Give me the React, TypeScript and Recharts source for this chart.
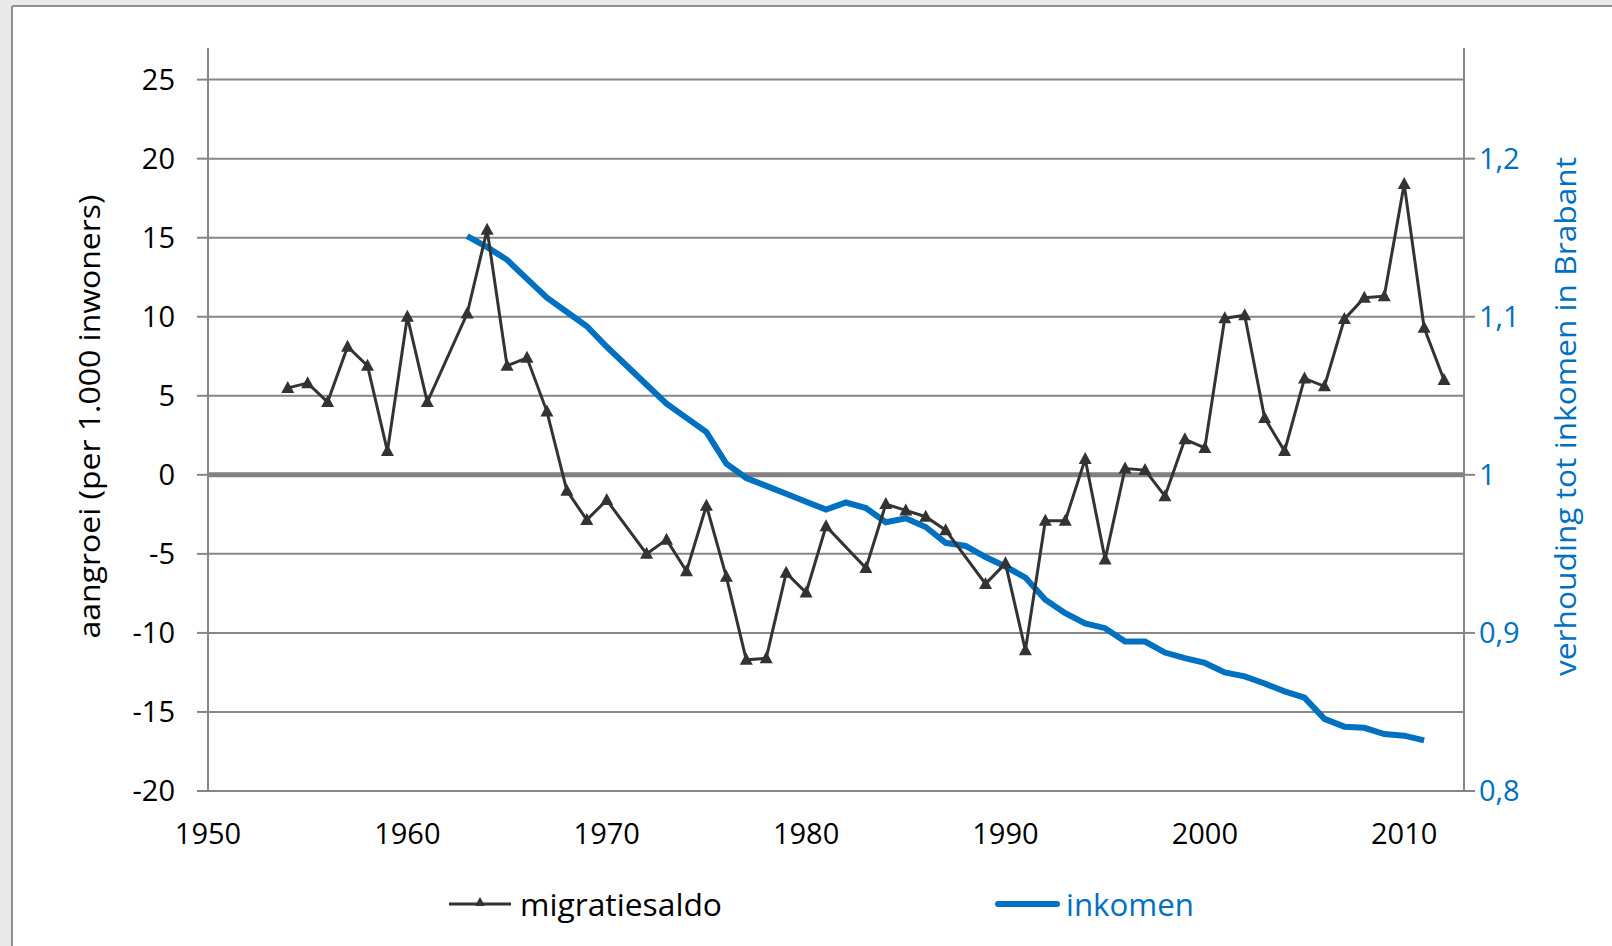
import React from 'react'
import { ComposedChart, Line, XAxis, YAxis, ReferenceLine } from 'recharts'

const FONT = "'Open Sans', sans-serif"
const BLUE = '#0070C0'
const DARK = '#333333'
const GRID = '#868686'

// migratiesaldo (per 1.000 inwoners), years with a value
const migratieYears = [
  1954, 1955, 1956, 1957, 1958, 1959, 1960, 1961, 1963, 1964, 1965, 1966, 1967, 1968, 1969, 1970,
  1972, 1973, 1974, 1975, 1976, 1977, 1978, 1979, 1980, 1981, 1983, 1984, 1985, 1986, 1987,
  1989, 1990, 1991, 1992, 1993, 1994, 1995, 1996, 1997, 1998, 1999, 2000, 2001, 2002, 2003,
  2004, 2005, 2006, 2007, 2008, 2009, 2010, 2011, 2012,
]
const migratieValues = [
  5.5, 5.8, 4.6, 8.1, 6.9, 1.5, 10.0, 4.6, 10.2, 15.5, 6.9, 7.4, 4.0, -1.0, -2.85, -1.6,
  -5.0, -4.1, -6.1, -1.95, -6.45, -11.7, -11.6, -6.2, -7.45, -3.25, -5.9, -1.85, -2.25, -2.65, -3.5,
  -6.9, -5.6, -11.1, -2.9, -2.9, 1.0, -5.35, 0.4, 0.3, -1.35, 2.25, 1.7, 9.9, 10.1, 3.6,
  1.5, 6.1, 5.6, 9.85, 11.2, 11.3, 18.4, 9.3, 6.0,
]

// inkomen: verhouding tot inkomen in Brabant
const inkomenYears = [
  1963, 1964, 1965, 1966, 1967, 1968, 1969, 1970, 1971, 1972, 1973, 1974, 1975, 1976, 1977,
  1978, 1979, 1980, 1981, 1982, 1983, 1984, 1985, 1986, 1987, 1988, 1989, 1990, 1991, 1992,
  1993, 1994, 1995, 1996, 1997, 1998, 1999, 2000, 2001, 2002, 2003, 2004, 2005, 2006, 2007,
  2008, 2009, 2010, 2011,
]
const inkomenValues = [
  1.151, 1.144, 1.136, 1.124, 1.112, 1.103, 1.094, 1.081, 1.069, 1.057, 1.045, 1.036, 1.027, 1.007, 0.998,
  0.993, 0.988, 0.983, 0.978, 0.9825, 0.979, 0.97, 0.9725, 0.967, 0.957, 0.955, 0.948, 0.942, 0.935, 0.921,
  0.9125, 0.906, 0.903, 0.8945, 0.8945, 0.8876, 0.884, 0.881, 0.875, 0.8725, 0.868, 0.863, 0.859, 0.8456, 0.8407,
  0.84, 0.836, 0.835, 0.832,
]

const xTicks = [1950, 1960, 1970, 1980, 1990, 2000, 2010]
const leftTicks = [-20, -15, -10, -5, 0, 5, 10, 15, 20, 25]
const rightTicks = [0.8, 0.9, 1, 1.1, 1.2]

const migratieData = migratieYears.map((year, i) => ({ year, v: migratieValues[i] }))
const inkomenData = inkomenYears.map((year, i) => ({ year, v: inkomenValues[i] }))

function Triangle(props: any) {
  const { cx, cy, index } = props
  if (cx == null || cy == null) return <g key={`t-${index}`} />
  return <path key={`t-${index}`} d={`M${cx},${cy - 7} L${cx + 6.5},${cy + 5} L${cx - 6.5},${cy + 5} Z`} fill={DARK} />
}

function AxisTitle(props: any) {
  const { viewBox, text, dx, color, len } = props
  const x = viewBox.x + dx
  const y = viewBox.y + viewBox.height / 2 - 3
  return (
    <text
      x={x}
      y={y}
      transform={`rotate(-90, ${x}, ${y})`}
      textAnchor="middle"
      dominantBaseline="central"
      fontFamily={FONT}
      fontSize={30}
      fill={color}
      textLength={len}
      lengthAdjust="spacingAndGlyphs"
    >
      {text}
    </text>
  )
}

const fmtRight = (v: number) => String(Math.round(v * 10) / 10).replace('.', ',')

export default function App() {
  return (
    <div style={{ position: 'absolute', left: 0, top: 0, width: 1612, height: 946, background: '#fff' }}>
      <ComposedChart width={1612} height={946} margin={{ top: 48, right: 0, bottom: 0, left: 0 }}>
        <XAxis
          type="number"
          dataKey="year"
          domain={[1950, 2013]}
          ticks={xTicks}
          height={155}
          tickSize={0}
          tickMargin={32}
          tickLine={false}
          axisLine={{ stroke: GRID, strokeWidth: 2 }}
          tick={{ fill: '#000', fontSize: 29, fontFamily: FONT }}
          allowDataOverflow
        />
        <YAxis
          yAxisId="left"
          width={208}
          domain={[-20, 27]}
          ticks={leftTicks}
          tickSize={11}
          tickMargin={22}
          interval={0}
          axisLine={{ stroke: GRID, strokeWidth: 2 }}
          tickLine={{ stroke: GRID, strokeWidth: 2 }}
          tick={{ fill: '#000', fontSize: 29, fontFamily: FONT }}
          allowDataOverflow
          label={<AxisTitle text="aangroei (per 1.000 inwoners)" dx={88} color="#000" len={444} />}
        />
        <YAxis
          yAxisId="right"
          orientation="right"
          width={148}
          domain={[0.8, 1.27]}
          ticks={rightTicks}
          tickSize={11}
          tickMargin={4}
          interval={0}
          tickFormatter={fmtRight}
          axisLine={{ stroke: GRID, strokeWidth: 2 }}
          tickLine={{ stroke: GRID, strokeWidth: 2 }}
          tick={{ fill: BLUE, fontSize: 29, fontFamily: FONT }}
          allowDataOverflow
          label={<AxisTitle text="verhouding tot inkomen in Brabant" dx={100} color={BLUE} len={519} />}
        />
        {leftTicks.map((t) => (
          <ReferenceLine key={`g-${t}`} yAxisId="left" y={t} stroke={GRID} strokeWidth={2} />
        ))}
        <ReferenceLine yAxisId="left" y={0} stroke="#808080" strokeWidth={5} />
        <Line
          yAxisId="right"
          data={inkomenData}
          dataKey="v"
          type="linear"
          stroke={BLUE}
          strokeWidth={6}
          dot={false}
          activeDot={false}
          isAnimationActive={false}
        />
        <Line
          yAxisId="left"
          data={migratieData}
          dataKey="v"
          type="linear"
          stroke={DARK}
          strokeWidth={3}
          dot={Triangle}
          activeDot={false}
          isAnimationActive={false}
        />
      </ComposedChart>
      <svg width={1612} height={946} style={{ position: 'absolute', left: 0, top: 0, pointerEvents: 'none' }}>
        {/* page background and frame around the chart */}
        <rect x={0} y={0} width={1612} height={5} fill="#e9e9e9" />
        <rect x={0} y={0} width={11} height={946} fill="#e9e9e9" />
        <line x1={12} y1={6} x2={1612} y2={6} stroke="#8f8f8f" strokeWidth={2} />
        <line x1={12} y1={6} x2={12} y2={946} stroke="#8f8f8f" strokeWidth={2} />
        <line x1={449} y1={904} x2={511} y2={904} stroke={DARK} strokeWidth={3} />
        <path d="M480,897 L485,906 L475,906 Z" fill={DARK} />
        <text x={520} y={904} dominantBaseline="central" fontFamily={FONT} fontSize={31} fill="#000" textLength={202} lengthAdjust="spacingAndGlyphs">
          migratiesaldo
        </text>
        <line x1={998} y1={904} x2={1057} y2={904} stroke={BLUE} strokeWidth={6} strokeLinecap="round" />
        <text x={1066} y={904} dominantBaseline="central" fontFamily={FONT} fontSize={31} fill={BLUE} textLength={128} lengthAdjust="spacingAndGlyphs">
          inkomen
        </text>
      </svg>
    </div>
  )
}
